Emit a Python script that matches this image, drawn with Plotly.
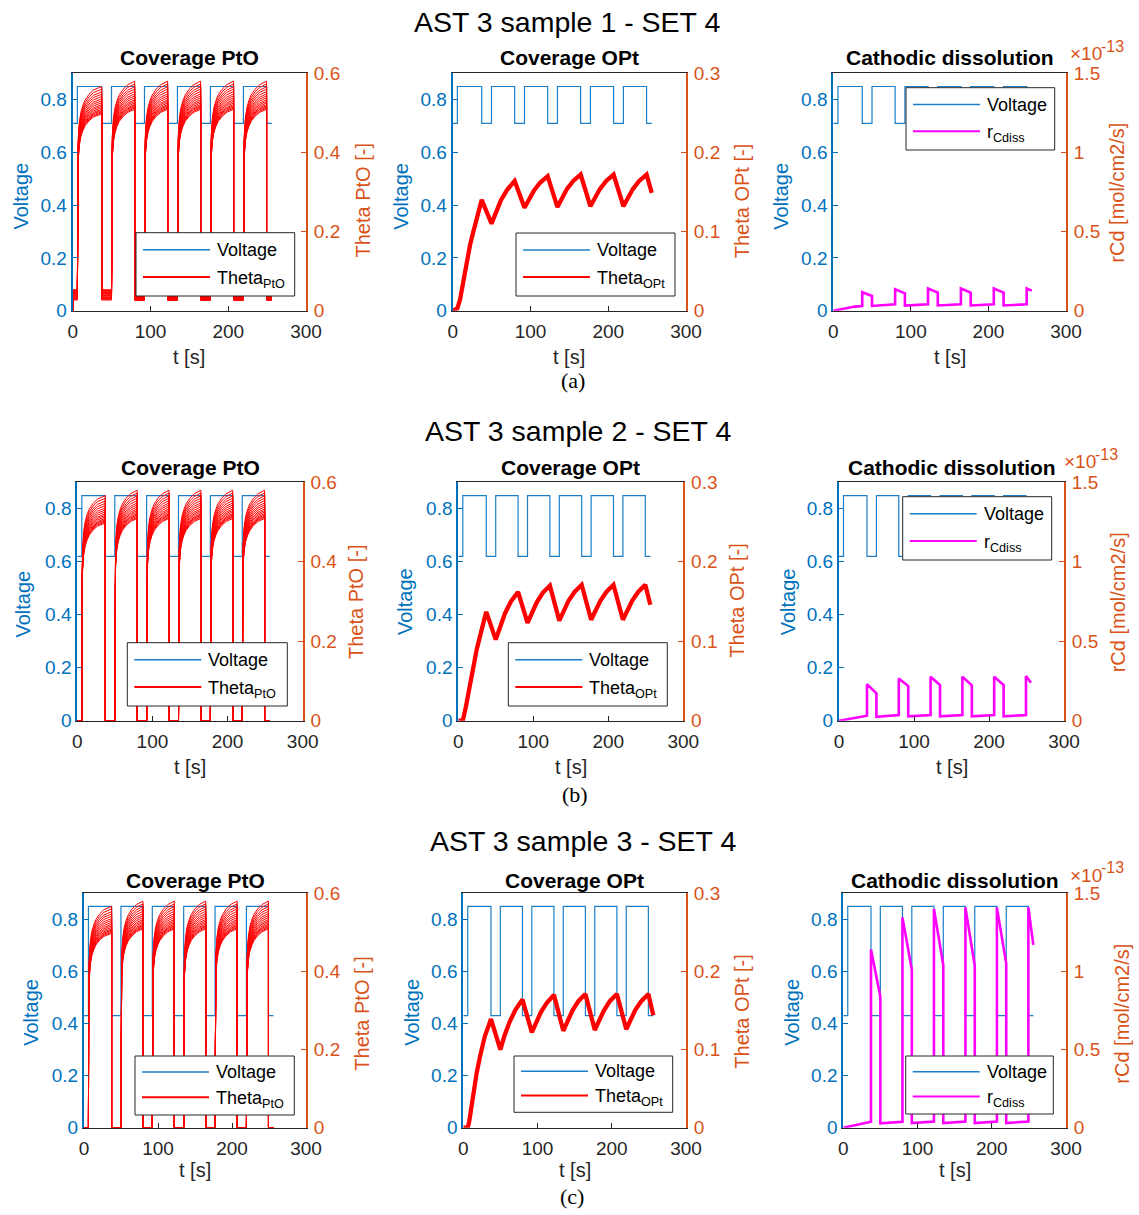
import plotly.graph_objects as go

W, H = 1139, 1215
FONT = "Liberation Sans, Arial, sans-serif"
SERIF = "Liberation Serif, Times New Roman, serif"
BLUE = "#0072BD"
VLINE = "#1a7fc8"
ORANGE = "#D95319"
DARK = "#262626"
RED = "#FF0000"
MAGENTA = "#FF00FF"

# ---------------- data ----------------
# switching instants of the square-wave potential cycle [s]
switch_t = [0, 6.0, 37.3, 49.9, 79.7, 92.3, 122.1, 134.7, 164.5, 177.1, 206.9, 219.5, 249.3, 256.0]
rise_t = [6.0, 49.9, 92.3, 134.7, 177.1, 219.5]
fall_t = [37.3, 79.7, 122.1, 164.5, 206.9, 249.3]
t_end = 256.0

# applied potential [V] held from each switching instant
voltage_s1 = [0.71, 0.85, 0.71, 0.85, 0.71, 0.85, 0.71, 0.85, 0.71, 0.85, 0.71, 0.85, 0.71, 0.71]
voltage_s2 = [0.62, 0.85, 0.62, 0.85, 0.62, 0.85, 0.62, 0.85, 0.62, 0.85, 0.62, 0.85, 0.62, 0.62]
voltage_s3 = [0.43, 0.85, 0.43, 0.85, 0.43, 0.85, 0.43, 0.85, 0.43, 0.85, 0.43, 0.85, 0.43, 0.43]

# PtO coverage: growth during each anodic hold (time after step [s], fraction of final level)
pto_rise_dt = [0.3, 1.0, 2.5, 4.5, 7.0, 10.0, 15.0, 21.0]
pto_rise_frac = [0.60, 0.76, 0.84, 0.885, 0.915, 0.94, 0.965, 0.985]
# final PtO coverage of each simulated curve at the end of an anodic hold
pto_end_levels = [0.509, 0.512, 0.515, 0.518, 0.521, 0.525, 0.529, 0.533,
                  0.538, 0.543, 0.548, 0.554, 0.560, 0.566, 0.573, 0.580]
pto_first_cycle_ratio = 0.977
# residual PtO coverage during the cathodic holds (sample 1 only)
pto_floor_s1_early = [0.027, 0.029, 0.031, 0.033, 0.035, 0.037, 0.038, 0.040,
                      0.042, 0.043, 0.045, 0.046, 0.048, 0.050, 0.051, 0.053]
pto_floor_s1_late = [0.026, 0.027, 0.027, 0.028, 0.029, 0.029, 0.030, 0.031,
                     0.031, 0.032, 0.033, 0.033, 0.034, 0.035, 0.035, 0.036]

# OPt coverage [-]
opt_t_s1 = [0, 6.0, 9.4, 13.7, 18.0, 22.3, 26.6, 30.9, 37.3, 49.9, 55.2, 62.2, 70.2, 79.7,
            92.3, 97.6, 104.6, 112.6, 122.1, 134.7, 140.0, 147.0, 155.0, 164.5,
            177.1, 182.4, 189.4, 197.4, 206.9, 219.5, 224.8, 231.8, 239.8, 249.3, 256.0]
opt_s1 = [0, 0.003, 0.014, 0.039, 0.062, 0.083, 0.100, 0.115, 0.140, 0.110, 0.124, 0.140, 0.153, 0.164,
          0.130, 0.140, 0.152, 0.162, 0.170, 0.131, 0.142, 0.154, 0.164, 0.172,
          0.132, 0.142, 0.154, 0.164, 0.172, 0.132, 0.142, 0.154, 0.164, 0.172, 0.149]
opt_t_s2 = [0, 6.0, 10.2, 15.6, 20.0, 24.4, 31.0, 37.3, 49.9, 55.2, 62.2, 70.2, 79.7,
            92.3, 97.6, 104.6, 112.6, 122.1, 134.7, 140.0, 147.0, 155.0, 164.5,
            177.1, 182.4, 189.4, 197.4, 206.9, 219.5, 224.8, 231.8, 239.8, 249.3, 256.0]
opt_s2 = [0, 0.0, 0.018, 0.047, 0.070, 0.089, 0.114, 0.137, 0.102, 0.118, 0.135, 0.150, 0.162,
          0.123, 0.135, 0.149, 0.161, 0.170, 0.126, 0.138, 0.151, 0.162, 0.171,
          0.127, 0.138, 0.151, 0.162, 0.171, 0.127, 0.138, 0.151, 0.162, 0.171, 0.146]
opt_t_s3 = [0, 6.0, 8.0, 13.5, 18.0, 22.5, 29.0, 37.3, 49.9, 55.2, 62.2, 70.2, 79.7,
            92.3, 97.6, 104.6, 112.6, 122.1, 134.7, 140.0, 147.0, 155.0, 164.5,
            177.1, 182.4, 189.4, 197.4, 206.9, 219.5, 224.8, 231.8, 239.8, 249.3, 256.0]
opt_s3 = [0, 0.0, 0.008, 0.044, 0.070, 0.091, 0.117, 0.139, 0.100, 0.117, 0.135, 0.151, 0.164,
          0.122, 0.134, 0.148, 0.160, 0.170, 0.124, 0.136, 0.150, 0.162, 0.171,
          0.125, 0.137, 0.150, 0.162, 0.171, 0.126, 0.138, 0.151, 0.162, 0.171, 0.144]

# cathodic dissolution rate [1e-13 mol/cm2/s]
rcd_t = [0, 6.0, 12.0, 20.0, 28.0, 37.3, 37.3, 49.9, 49.9, 79.7, 79.7, 92.3, 92.3,
         122.1, 122.1, 134.7, 134.7, 164.5, 164.5, 177.1, 177.1, 206.9, 206.9,
         219.5, 219.5, 249.3, 249.3, 256.0]
rcd_s1 = [0, 0.006, 0.013, 0.020, 0.026, 0.030, 0.117, 0.093, 0.030, 0.040, 0.136, 0.110, 0.032,
          0.040, 0.140, 0.114, 0.033, 0.040, 0.140, 0.114, 0.033, 0.040, 0.140,
          0.114, 0.033, 0.040, 0.141, 0.127]
rcd_s2 = [0, 0.005, 0.012, 0.020, 0.026, 0.031, 0.229, 0.172, 0.025, 0.036, 0.266, 0.218, 0.027,
          0.036, 0.277, 0.224, 0.027, 0.036, 0.277, 0.222, 0.027, 0.036, 0.277,
          0.224, 0.027, 0.036, 0.281, 0.239]
rcd_s3 = [0, 0.006, 0.014, 0.024, 0.032, 0.038, 1.140, 0.838, 0.028, 0.038, 1.346, 1.010, 0.030,
          0.040, 1.400, 1.040, 0.030, 0.040, 1.410, 1.035, 0.030, 0.040, 1.410,
          1.050, 0.030, 0.040, 1.410, 1.170]

row_titles = ["AST 3 sample 1 - SET 4", "AST 3 sample 2 - SET 4", "AST 3 sample 3 - SET 4"]
row_tags = ["(a)", "(b)", "(c)"]
panel_titles = ["Coverage PtO", "Coverage OPt", "Cathodic dissolution"]
right_titles = ["Theta PtO [-]", "Theta OPt [-]", "rCd [mol/cm2/s]"]
legend_names = ["Theta<sub>PtO</sub>", "Theta<sub>OPt</sub>", "r<sub>Cdiss</sub>"]

# ---------------- layout geometry (pixels) ----------------
# plot areas: x0, x1, top, bottom
panels = [
    (72.7, 306.0, 73.3, 310.7), (452.7, 686.0, 73.3, 310.7), (833.3, 1066.0, 73.3, 310.7),
    (77.3, 302.7, 482.3, 720.7), (458.3, 683.3, 482.3, 720.7), (839.0, 1064.0, 482.3, 720.7),
    (84.0, 306.0, 893.3, 1127.7), (463.3, 686.0, 893.3, 1127.7), (843.3, 1066.0, 893.3, 1127.7),
]
legend_boxes = [
    (136.0, 232.7, 294.7, 296.0), (516.0, 233.0, 675.0, 296.0), (906.0, 87.7, 1054.7, 150.0),
    (127.3, 642.7, 287.3, 706.0), (508.3, 642.7, 667.3, 706.0), (902.7, 496.7, 1051.7, 560.0),
    (135.0, 1056.0, 294.3, 1115.0), (514.0, 1056.0, 672.7, 1112.3), (905.7, 1056.0, 1053.3, 1114.0),
]
left_title_pos = [(20.5, 196), (400.8, 196), (780.7, 196),
                  (22.5, 604), (405.0, 602), (788.3, 602),
                  (30.8, 1012), (411.7, 1012), (791.7, 1012)]
right_title_pos = [(362.5, 201), (742.3, 201), (1116.7, 193),
                   (356.0, 602), (736.7, 601), (1118.3, 602),
                   (361.7, 1014), (741.7, 1012), (1121.7, 1014)]
title_y = [58, 467, 880]
xlabel_y = [357, 767, 1170]
row_title_pos = [(567, 22), (578, 431), (583, 841)]
row_tag_pos = [(573, 381), (575, 794), (572, 1196)]
# scale-factor label: base "×10" (left x, centre y) per row
exp_pos = [(1068, 54), (1062, 461), (1068, 875)]


def px(x):
    return x / W


def py(y):
    return 1 - y / H


def pto_curve(k, floors_early, floors_late):
    """One PtO coverage curve over all potential cycles."""
    ts, vs = [0.0], [0.0]
    fe = floors_early[k] if floors_early else 0.0
    fl = floors_late[k] if floors_late else 0.0
    if fe > 0:
        ts.append(0.4)
        vs.append(fe)
    for i, (r, f) in enumerate(zip(rise_t, fall_t)):
        floor_before = fe if i < 2 else fl
        floor_after = fe if i < 1 else fl
        level = pto_end_levels[k] * (pto_first_cycle_ratio if i == 0 else 1.0)
        ts.append(r)
        vs.append(floor_before)
        for dt, fr in zip(pto_rise_dt, pto_rise_frac):
            ts.append(r + dt)
            vs.append(level * fr)
        ts += [f, f]
        vs += [level, floor_after]
    ts.append(t_end)
    vs.append(fl)
    return ts, vs


def label(text, x, y, size, color, anchor="center", angle=0, family=FONT):
    return dict(text=text, x=px(x), y=py(y), xref="paper", yref="paper",
                showarrow=False, xanchor=anchor, yanchor="middle", textangle=angle,
                font=dict(size=size, color=color, family=family))


fig = go.Figure()
layout = dict(width=W, height=H,
              margin=dict(l=0, r=0, t=0, b=0, autoexpand=False),
              paper_bgcolor="white", plot_bgcolor="white", showlegend=False,
              font=dict(family=FONT, color=DARK))
annotations = []
shapes = []

voltages = [voltage_s1, voltage_s2, voltage_s3]
opt_t = [opt_t_s1, opt_t_s2, opt_t_s3]
opt_v = [opt_s1, opt_s2, opt_s3]
rcd_v = [rcd_s1, rcd_s2, rcd_s3]

right_cfg = [
    dict(range=[0, 0.6], tickvals=[0, 0.2, 0.4, 0.6], ticktext=["0", "0.2", "0.4", "0.6"]),
    dict(range=[0, 0.3], tickvals=[0, 0.1, 0.2, 0.3], ticktext=["0", "0.1", "0.2", "0.3"]),
    dict(range=[0, 1.5], tickvals=[0, 0.5, 1.0, 1.5], ticktext=["0", "0.5", "1", "1.5"]),
]

for i, (x0, x1, yt, yb) in enumerate(panels):
    row, col = divmod(i, 3)
    n = i + 1
    xname = "x" if n == 1 else f"x{n}"
    yl = 2 * n - 1
    yr = 2 * n
    ylname = "y" if yl == 1 else f"y{yl}"
    yrname = f"y{yr}"

    layout["xaxis" if n == 1 else f"xaxis{n}"] = dict(
        domain=[px(x0), px(x1)], range=[0, 300], anchor=ylname,
        tickvals=[0, 100, 200, 300], ticktext=["0", "100", "200", "300"],
        ticks="inside", ticklen=5, tickwidth=1, tickcolor=DARK, ticklabelstandoff=3,
        showline=True, linecolor=DARK, linewidth=1, mirror=True,
        showgrid=False, zeroline=False, automargin=False,
        tickfont=dict(size=19, color=DARK, family=FONT), fixedrange=True)
    layout["yaxis" if yl == 1 else f"yaxis{yl}"] = dict(
        domain=[py(yb), py(yt)], range=[0, 0.9], anchor=xname,
        tickvals=[0, 0.2, 0.4, 0.6, 0.8], ticktext=["0", "0.2", "0.4", "0.6", "0.8"],
        ticks="inside", ticklen=5, tickwidth=1, tickcolor=BLUE,
        showline=True, linecolor=BLUE, linewidth=2,
        showgrid=False, zeroline=False, automargin=False,
        tickfont=dict(size=19, color=BLUE, family=FONT), fixedrange=True)
    rc = right_cfg[col]
    layout[f"yaxis{yr}"] = dict(
        overlaying=ylname, side="right", anchor=xname,
        range=rc["range"], tickvals=rc["tickvals"], ticktext=rc["ticktext"],
        ticks="inside", ticklen=5, tickwidth=1, tickcolor=ORANGE, ticklabelstandoff=2,
        showline=True, linecolor=ORANGE, linewidth=2,
        showgrid=False, zeroline=False, automargin=False,
        tickfont=dict(size=19, color=ORANGE, family=FONT), fixedrange=True)

    # applied potential
    fig.add_trace(go.Scatter(x=switch_t, y=voltages[row], mode="lines",
                             line=dict(color=VLINE, width=1.2, shape="hv"),
                             xaxis=xname, yaxis=ylname, hoverinfo="skip"))

    if col == 0:
        fe = pto_floor_s1_early if row == 0 else None
        fl = pto_floor_s1_late if row == 0 else None
        for k in range(len(pto_end_levels)):
            ts, vs = pto_curve(k, fe, fl)
            fig.add_trace(go.Scatter(x=ts, y=vs, mode="lines",
                                     line=dict(color=RED, width=1),
                                     xaxis=xname, yaxis=yrname, hoverinfo="skip"))
    elif col == 1:
        fig.add_trace(go.Scatter(x=opt_t[row], y=opt_v[row], mode="lines",
                                 line=dict(color=RED, width=4.3),
                                 xaxis=xname, yaxis=yrname, hoverinfo="skip"))
    else:
        fig.add_trace(go.Scatter(x=rcd_t, y=rcd_v[row], mode="lines",
                                 line=dict(color=MAGENTA, width=2.6),
                                 xaxis=xname, yaxis=yrname, hoverinfo="skip"))

    xc = (x0 + x1) / 2
    annotations.append(label(f"<b>{panel_titles[col]}</b>", xc, title_y[row], 21, "black"))
    annotations.append(label("t [s]", xc, xlabel_y[row], 20, DARK))
    lx, ly = left_title_pos[i]
    annotations.append(label("Voltage", lx, ly, 20, BLUE, angle=-90))
    rx, ry = right_title_pos[i]
    annotations.append(label(right_titles[col], rx, ry, 20, ORANGE, angle=-90))
    if col == 2:
        ex, ey = exp_pos[row]
        annotations.append(label("×10", ex, ey, 19, ORANGE, anchor="left"))
        annotations.append(label("-13", ex + 31, ey - 7, 16, ORANGE, anchor="left"))

    # legend box
    bx0, by0, bx1, by1 = legend_boxes[i]
    bh = by1 - by0
    shapes.append(dict(type="rect", xref="paper", yref="paper",
                       x0=px(bx0), x1=px(bx1), y0=py(by1), y1=py(by0),
                       line=dict(color=DARK, width=1), fillcolor="white", layer="above"))
    l1 = by0 + 0.27 * bh
    l2 = by0 + 0.70 * bh
    shapes.append(dict(type="line", xref="paper", yref="paper",
                       x0=px(bx0 + 7), x1=px(bx0 + 74), y0=py(l1), y1=py(l1),
                       line=dict(color=VLINE, width=1.5), layer="above"))
    entry_color = MAGENTA if col == 2 else RED
    shapes.append(dict(type="line", xref="paper", yref="paper",
                       x0=px(bx0 + 7), x1=px(bx0 + 74), y0=py(l2), y1=py(l2),
                       line=dict(color=entry_color, width=2), layer="above"))
    annotations.append(label("Voltage", bx0 + 79, l1, 18, "black", anchor="left"))
    annotations.append(label(legend_names[col], bx0 + 79, l2 + 2, 18, "black", anchor="left"))

for r in range(3):
    tx, ty = row_title_pos[r]
    annotations.append(label(row_titles[r], tx, ty, 28.5, "black"))
    gx, gy = row_tag_pos[r]
    annotations.append(label(row_tags[r], gx, gy, 22, "black", family=SERIF))

layout["annotations"] = annotations
layout["shapes"] = shapes
fig.update_layout(**layout)
fig.write_html("out.html", config={"displayModeBar": False})
